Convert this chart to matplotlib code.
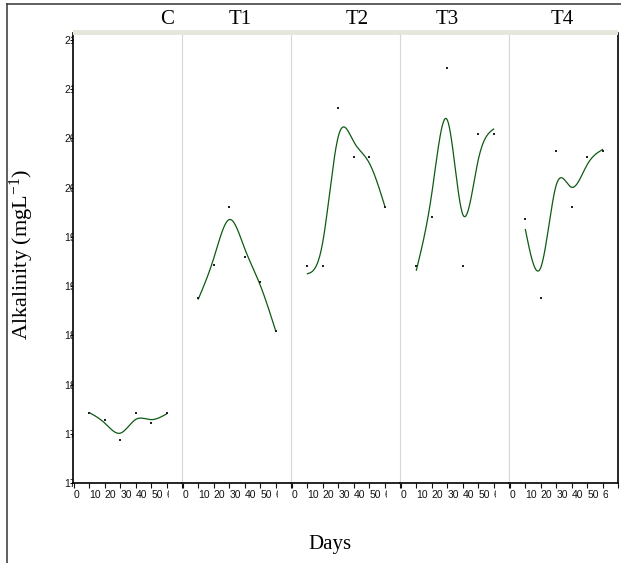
import numpy as np
import matplotlib
matplotlib.use("Agg")
import matplotlib.pyplot as plt
from matplotlib.transforms import Bbox, TransformedBbox, blended_transform_factory
from matplotlib.lines import Line2D
from matplotlib.patches import Rectangle

plt.rcParams['font.family'] = ['Liberation Sans', 'DejaVu Sans']
plt.rcParams['mathtext.fontset'] = 'custom'
plt.rcParams['mathtext.rm'] = 'Liberation Serif'
plt.rcParams['mathtext.it'] = 'Liberation Serif:italic'

# data (alkalinity, mg/L)
days = [10, 20, 30, 40, 50, 60]
groups = ['C', 'T1', 'T2', 'T3', 'T4']
alk_C = [177.1, 176.4, 174.4, 177.1, 176.1, 177.1]
alk_T1 = [188.8, 192.1, 198.0, 193.0, 190.4, 185.4]
alk_T2 = [192.0, 192.0, 208.1, 203.1, 203.1, 198.0]
alk_T3 = [192.0, 197.0, 212.1, 192.0, 205.4, 205.4]
alk_T4 = [196.8, 188.8, 203.7, 198.0, 203.1, 203.7]
x_ticks = [0, 10, 20, 30, 40, 50, 60, 70]
x_labels = ['0', '10', '20', '30', '40', '50', '60', '']
y_ticks = [170, 175, 180, 185, 190, 195, 200, 205, 210, 215]

W, H = 621, 563
SERIF = ['Liberation Serif', 'DejaVu Serif']


def fx(px):
    return px / W


def fy(py):
    return 1 - py / H


def smooth_spline(x, y, lam, num=300):
    # cubic smoothing spline (Reinsch form)
    x = np.asarray(x, float)
    y = np.asarray(y, float)
    n = len(x)
    h = np.diff(x)
    Q = np.zeros((n, n - 2))
    R = np.zeros((n - 2, n - 2))
    for j in range(1, n - 1):
        Q[j - 1, j - 1] = 1 / h[j - 1]
        Q[j, j - 1] = -1 / h[j - 1] - 1 / h[j]
        Q[j + 1, j - 1] = 1 / h[j]
        R[j - 1, j - 1] = (h[j - 1] + h[j]) / 3
        if j < n - 2:
            R[j - 1, j] = R[j, j - 1] = h[j] / 6
    gam = np.linalg.solve(R + lam * Q.T @ Q, Q.T @ y)
    g = y - lam * Q @ gam
    gam = np.concatenate([[0], gam, [0]])
    t = np.linspace(x[0], x[-1], num)
    i = np.clip(np.searchsorted(x, t) - 1, 0, n - 2)
    a = t - x[i]
    b = x[i + 1] - t
    hi = h[i]
    f = (a * g[i + 1] + b * g[i]) / hi - a * b / 6 * ((1 + a / hi) * gam[i + 1] + (1 + b / hi) * gam[i])
    return t, f


series = [alk_C, alk_T1, alk_T2, alk_T3, alk_T4]
title_px = [167, 240, 357, 447, 562]

fig = plt.figure(figsize=(6.21, 5.63), dpi=100)

left0, pw, top, bot = 73, 109, 33, 483
for k, (name, vals) in enumerate(zip(groups, series)):
    ax = fig.add_axes([fx(left0 + pw * k), fy(bot), pw / W, (bot - top) / H])
    ax.set_xlim(-0.6, 70)
    ax.set_ylim(170, 215.7)
    t, f = smooth_spline(days, vals, 45)
    ax.plot(t, f, color='#0e5a12', lw=0.9)
    ax.plot(days, vals, 's', color='#222222', ms=1.7, mew=0)

    ax.set_xticks(x_ticks)
    ax.set_xticklabels(x_labels)
    ax.tick_params(axis='x', length=3.5, width=0.8, pad=1.5, labelsize=7.5, colors='#111111')
    xlabs = ax.get_xticklabels()
    for lab in xlabs:
        lab.set_ha('left')
    # the "60" label is cut off by the next panel
    w = 3.6 if k == len(groups) - 1 else 1.3
    tr = blended_transform_factory(ax.transData, fig.transFigure)
    xlabs[6].set_clip_box(TransformedBbox(Bbox([[60, 0], [60 + w, 1]]), tr))
    xlabs[6].set_clip_on(True)

    if k == 0:
        ax.set_yticks(y_ticks)
        ax.set_yticklabels([str(v) for v in y_ticks])
        ax.tick_params(axis='y', length=2, width=0.8, pad=4.5, labelsize=7.5, colors='#111111')
        clip = TransformedBbox(Bbox([[0, 0], [fx(left0), 1]]), fig.transFigure)
        for lab in ax.get_yticklabels():
            lab.set_ha('left')
            lab.set_clip_box(clip)
            lab.set_clip_on(True)
    else:
        ax.set_yticks([])

    ax.spines['top'].set_visible(False)
    ax.spines['bottom'].set_linewidth(1.2)
    if k == 0:
        ax.spines['left'].set_linewidth(1.2)
    else:
        ax.spines['left'].set_color('#d6d6d6')
        ax.spines['left'].set_linewidth(0.8)
    if k == len(groups) - 1:
        ax.spines['right'].set_linewidth(1.2)
    else:
        ax.spines['right'].set_visible(False)

    fig.text(fx(title_px[k]), fy(19), name, ha='center', va='center', family=SERIF, fontsize=15)

# strip band above the panels
fig.add_artist(Rectangle((fx(left0), fy(35)), (618 - left0) / W, 5 / H,
                         transform=fig.transFigure, color='#e6e6dc', lw=0))

# outer frame
fig.add_artist(Line2D([fx(7), fx(7)], [0, fy(4)], color='#444444', lw=1.2))
fig.add_artist(Line2D([fx(7), 1], [fy(4), fy(4)], color='#444444', lw=1.2))

fig.text(fx(22), fy(255), 'Alkalinity (mgL$^{-1}$)', rotation=90, ha='center', va='center',
         family=SERIF, fontsize=16)
fig.text(fx(330), fy(545), 'Days', ha='center', va='center', family=SERIF, fontsize=15)

fig.savefig('out.png', dpi=100)
